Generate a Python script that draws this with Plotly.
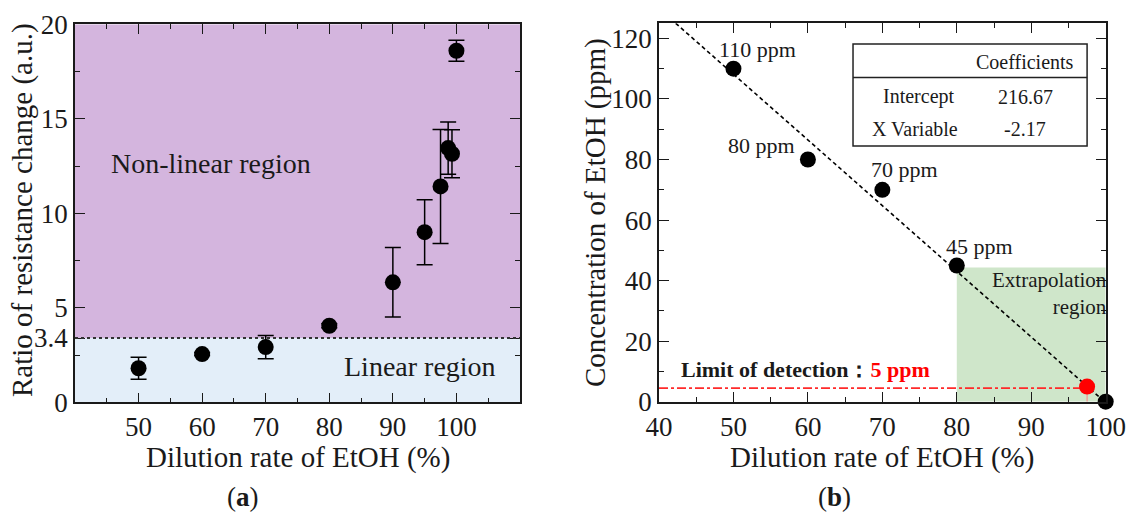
import plotly.graph_objects as go

# ---------------- data: panel (a) ----------------
dilution_a = [50, 60, 70, 80, 90, 95, 97.5, 98.7, 99.3, 100]
ratio_a = [1.8, 2.55, 2.92, 4.05, 6.35, 9.0, 11.42, 13.45, 13.15, 18.6]
ratio_err_a = [0.58, 0.08, 0.62, 0.1, 1.84, 1.72, 3.02, 1.38, 1.27, 0.56]
linear_threshold = 3.4
ytick_vals_a = [0, 3.4, 5, 10, 15, 20]
ytick_text_a = ["0", "3.4", "5", "10", "15", "20"]
xtick_vals_a = [50, 60, 70, 80, 90, 100]

# ---------------- data: panel (b) ----------------
dilution_b = [50, 60, 70, 80, 100]
conc_b = [110, 80, 70, 45, 0]
conc_labels_b = ["110 ppm", "80 ppm", "70 ppm", "45 ppm"]
lod_dilution = [97.5]
lod_conc = [5]
lod_line_conc = 4.5
intercept = 216.67
slope = -2.17
extrap_x = [80, 100]
extrap_y = [0, 44.3]

FONT = "'Liberation Serif', 'Times New Roman', Times, serif"
INK = "#1a1a1a"
W, H = 1127, 512

# pixel geometry of the plot areas
ax_a = dict(l=75, r=520, t=24.3, b=402.3)
ax_b = dict(l=659, r=1105.7, t=23.3, b=401.7)


def dom_x(a):
    return [a["l"] / W, a["r"] / W]


def dom_y(a):
    return [1 - a["b"] / H, 1 - a["t"] / H]


fig = go.Figure()

# panel (a) points
fig.add_trace(go.Scatter(
    x=dilution_a, y=ratio_a, mode="markers",
    marker=dict(size=16, color="black"),
    error_y=dict(type="data", array=ratio_err_a, visible=True,
                 color="black", thickness=1.5, width=8),
    xaxis="x", yaxis="y", showlegend=False, cliponaxis=False))

# panel (b) regression line
y_top = 125
x_fit = [(y_top - intercept) / slope, 100]
y_fit = [intercept + slope * v for v in x_fit]
fig.add_trace(go.Scatter(
    x=x_fit, y=y_fit, mode="lines",
    line=dict(color="black", width=1.6, dash="4px,3px"),
    xaxis="x2", yaxis="y2", showlegend=False))

# LOD dash-dot line
fig.add_trace(go.Scatter(
    x=[40, lod_dilution[0]], y=[lod_line_conc, lod_line_conc], mode="lines",
    line=dict(color="#ff2a2a", width=1.6, dash="dashdot"),
    xaxis="x2", yaxis="y2", showlegend=False))
fig.add_trace(go.Scatter(
    x=[lod_dilution[0], lod_dilution[0]], y=[0, lod_conc[0]], mode="lines",
    line=dict(color="#ff8080", width=1),
    xaxis="x2", yaxis="y2", showlegend=False))

# panel (b) points
fig.add_trace(go.Scatter(
    x=dilution_b, y=conc_b, mode="markers",
    marker=dict(size=16, color="black"),
    xaxis="x2", yaxis="y2", showlegend=False, cliponaxis=False))
fig.add_trace(go.Scatter(
    x=lod_dilution, y=lod_conc, mode="markers",
    marker=dict(size=16, color="#ff0000"),
    xaxis="x2", yaxis="y2", showlegend=False, cliponaxis=False))

axis_common = dict(
    showline=True, linecolor=INK, linewidth=1.5, mirror="allticks",
    ticks="inside", ticklen=10, tickwidth=1.3, tickcolor=INK,
    showgrid=False, zeroline=False, automargin=False,
    tickfont=dict(family=FONT, size=27, color=INK),
)

fig.update_layout(
    width=W, height=H,
    margin=dict(l=0, r=0, t=0, b=0, pad=0),
    paper_bgcolor="white", plot_bgcolor="white",
    font=dict(family=FONT, color=INK),
    xaxis=dict(domain=dom_x(ax_a), range=[40, 110], anchor="y",
               tickvals=xtick_vals_a,
               minor=dict(tickvals=[45, 55, 65, 75, 85, 95, 105], ticklen=5,
                          tickwidth=1.3, tickcolor=INK, ticks="inside"),
               **axis_common),
    yaxis=dict(domain=dom_y(ax_a), range=[0, 20], anchor="x",
               tickvals=ytick_vals_a, ticktext=ytick_text_a,
               minor=dict(tickvals=[2.5, 7.5, 12.5, 17.5], ticklen=5,
                          tickwidth=1.3, tickcolor=INK, ticks="inside"),
               **axis_common),
    xaxis2=dict(domain=dom_x(ax_b), range=[40, 100], anchor="y2",
                dtick=10, tick0=40,
                minor=dict(dtick=5, ticklen=5, tickwidth=1.3, tickcolor=INK,
                           ticks="inside"),
                **axis_common),
    yaxis2=dict(domain=dom_y(ax_b), range=[0, 125], anchor="x2",
                dtick=20, tick0=0,
                minor=dict(dtick=10, ticklen=5, tickwidth=1.3, tickcolor=INK,
                           ticks="inside"),
                **axis_common),
)

shapes = [
    # panel a regions
    dict(type="rect", xref="x", yref="y", x0=40, x1=110, y0=linear_threshold, y1=20,
         fillcolor="#d4b5de", line=dict(width=0), layer="below"),
    dict(type="rect", xref="x", yref="y", x0=40, x1=110, y0=0, y1=linear_threshold,
         fillcolor="#e3eef9", line=dict(width=0), layer="below"),
    dict(type="line", xref="x", yref="y", x0=40, x1=110, y0=linear_threshold,
         y1=linear_threshold, line=dict(color="#333", width=2, dash="dot")),
    # panel b extrapolation region
    dict(type="rect", xref="x2", yref="y2", x0=extrap_x[0], x1=extrap_x[1],
         y0=extrap_y[0], y1=extrap_y[1],
         fillcolor="#cfe6ca", line=dict(width=0), layer="below"),
    # coefficients table
    dict(type="rect", xref="x2", yref="y2", x0=66.06, x1=97.5, y0=84.5, y1=118.2,
         line=dict(color="#222", width=1.5), fillcolor="white"),
    dict(type="line", xref="x2", yref="y2", x0=66.06, x1=97.5, y0=107.1, y1=107.1,
         line=dict(color="#222", width=1.5)),
]
fig.update_layout(shapes=shapes)

ann = []


def txt(text, x, y, size, xref="paper", yref="paper", xanchor="center",
        yanchor="middle", angle=0, color=INK, align="center", xshift=0):
    ann.append(dict(text=text, x=x, y=y, xref=xref, yref=yref, xanchor=xanchor,
                    yanchor=yanchor, textangle=angle, showarrow=False,
                    align=align, xshift=xshift,
                    font=dict(family=FONT, size=size, color=color)))


# axis titles
txt("Dilution rate of EtOH (%)", 297.5 / W, 1 - 457 / H, 29)
txt("Dilution rate of EtOH (%)", 882 / W, 1 - 457 / H, 29)
txt("Ratio of resistance change (a.u.)", 22 / W, 1 - 210 / H, 29, angle=-90)
txt("Concentration of EtOH (ppm)", 595 / W, 1 - 213 / H, 29, angle=-90)
txt("(<b>a</b>)", 243 / W, 1 - 497 / H, 27)
txt("(<b>b</b>)", 834 / W, 1 - 497 / H, 27)

# region labels panel a
txt("Non-linear region", 61.4, 12.65, 28, xref="x", yref="y")
txt("Linear region", 94.2, 1.88, 28, xref="x", yref="y")

# panel b labels
label_pos = [(53.2, 116.5), (53.8, 84.6), (73.0, 76.8), (83.0, 51.2)]
for lab, (lx, ly) in zip(conc_labels_b, label_pos):
    txt(lab, lx, ly, 22, xref="x2", yref="y2")
txt("Extrapolation<br>region", 100, 35.6, 21, xref="x2", yref="y2",
    xanchor="right", xshift=3, align="right")
txt("<b>Limit of detection：</b><span style='color:#ff0000'><b>5 ppm</b></span>",
    42.7, 10.5, 22, xref="x2", yref="y2", xanchor="left")

# table text
txt("Coefficients", 89.2, 112.1, 20, xref="x2", yref="y2")
txt("Intercept", 74.9, 100.8, 20, xref="x2", yref="y2")
txt(f"{intercept:.2f}", 89.2, 100.8, 20, xref="x2", yref="y2")
txt("X Variable", 74.4, 90.0, 20, xref="x2", yref="y2")
txt(f"{slope:.2f}", 89.2, 90.0, 20, xref="x2", yref="y2")

fig.update_layout(annotations=ann)

fig.write_html(
    "out.html",
    config={"displayModeBar": False},
    post_script="document.body.style.margin='0';document.body.style.overflow='hidden';",
)
